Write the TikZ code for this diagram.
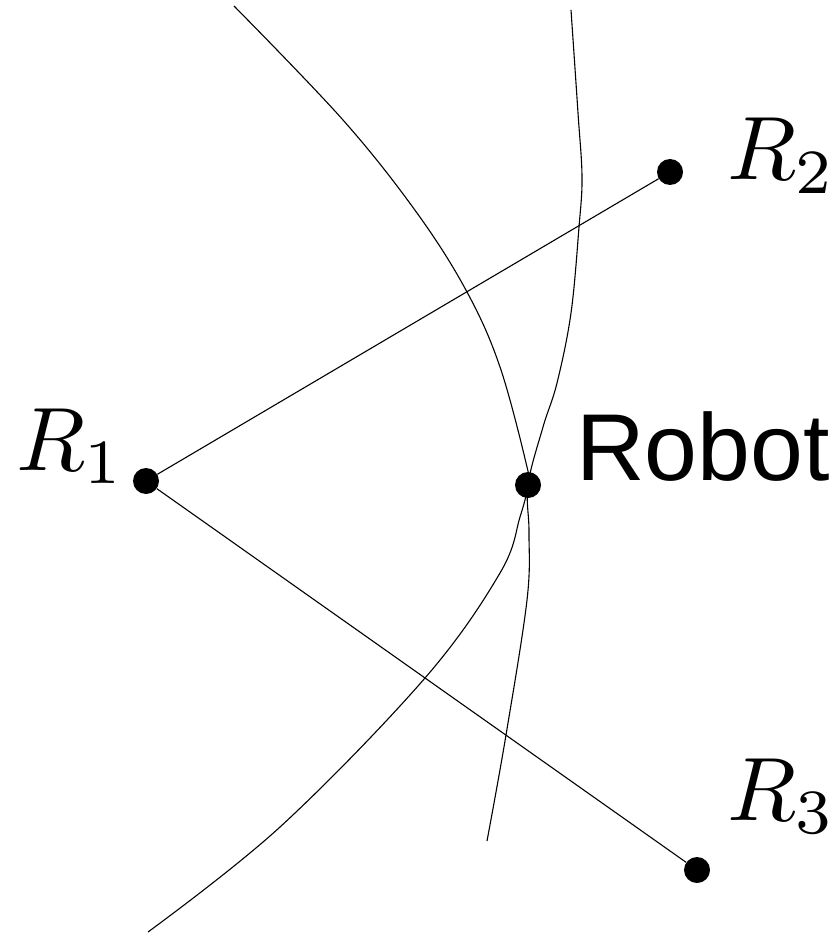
\documentclass[tikz,border=0pt]{standalone}
\usepackage{graphicx}
\usepackage{fontspec}
\newfontfamily\robotfont{Liberation Sans}
\newcommand{\bigmath}[1]{\scalebox{9.0}{$#1$}}
\begin{document}
\begin{tikzpicture}[x=1pt,y=-1pt,
  dot/.style={circle,fill=black,inner sep=0pt,minimum size=26pt},
  curve/.style={line width=1.1pt},
  link/.style={line width=1.1pt},
  mlabel/.style={inner sep=0pt,anchor=base west},
  slabel/.style={inner sep=0pt,anchor=base west,font=\robotfont\fontsize{95}{95}\selectfont}]
\useasboundingbox (0,0) rectangle (830,933);
% curves
\draw[curve] plot[smooth,tension=0.6] coordinates {(234,6) (343,120) (417,213) (467,292) (500,367) (527,467) (528,485) (520,517) (500,573) (425,678) (280,827) (148,932)};
\draw[curve] plot[smooth,tension=0.6] coordinates {(571,10) (578,113) (582,177) (579,227) (571,313) (557,383) (543,427) (528,485) (529,533) (527,600) (506,735) (487,841)};
% dots
\node[dot] (r1) at (146,481) {};
\node[dot] (r2) at (670,172) {};
\node[dot] (r3) at (697,870) {};
\node[dot] (robot) at (528,485) {};
% links
\draw[link] (r1) -- (r2);
\draw[link] (r1) -- (r3);
% labels
\node[mlabel] (l1) at (16,470) {\bigmath{R_1}};
\node[mlabel] (l2) at (727,180) {\bigmath{R_2}};
\node[mlabel] (l3) at (727,820) {\bigmath{R_3}};
\node[slabel] (lr) at (576,480) {Robot};
\end{tikzpicture}
\end{document}
